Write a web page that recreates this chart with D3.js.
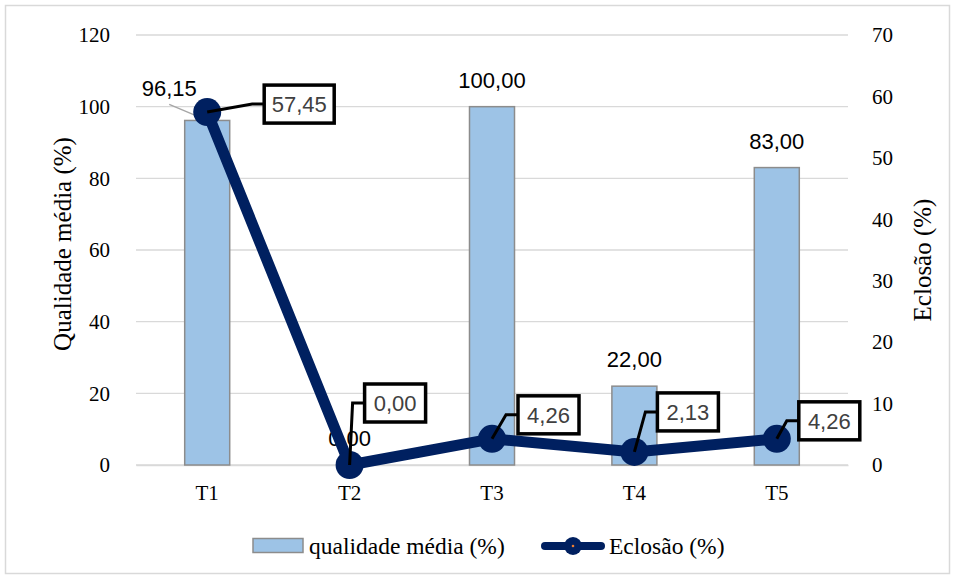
<!DOCTYPE html>
<html>
<head>
<meta charset="utf-8">
<script src="https://cdn.jsdelivr.net/npm/d3@7"></script>
<style>
  html, body { margin: 0; padding: 0; background: #fff; }
  svg { display: block; }
</style>
</head>
<body>
<svg id="chart" width="955" height="579"></svg>
<script>
// Treatments and measured values
const categories = ["T1", "T2", "T3", "T4", "T5"];
const qualidade = [96.15, 0.00, 100.00, 22.00, 83.00];
const eclosao = [57.45, 0.00, 4.26, 2.13, 4.26];
const leftTicks = [0, 20, 40, 60, 80, 100, 120];
const rightTicks = [0, 10, 20, 30, 40, 50, 60, 70];

// Callout placement for the hatch-rate labels (offset of box from the point)
const calloutDx = [57, 15, 26, 23, 22];
const calloutDy = [-8, -62, -24, -40, -18];
// Offsets for bar labels (T1 label is pushed left and tied with a leader)
const barLabelDx = [-38, 0, 0, 0, 0];

const fmt = v => v.toFixed(2).replace(".", ",");

const svg = d3.select("#chart");
const W = 955, H = 579;
const m = { left: 136, right: 107, top: 35, bottom: 114 };
const plotW = W - m.left - m.right;
const plotH = H - m.top - m.bottom;

// Outer frame
svg.append("rect").attr("x", 5.5).attr("y", 5.5).attr("width", 944).attr("height", 568)
  .attr("fill", "#fff").attr("stroke", "#d9d9d9").attr("stroke-width", 1.5);

const g = svg.append("g").attr("transform", `translate(${m.left},${m.top})`);

const x = d3.scaleBand().domain(categories).range([0, plotW]).paddingInner(0).paddingOuter(0);
const yL = d3.scaleLinear().domain([0, 120]).range([plotH, 0]);
const yR = d3.scaleLinear().domain([0, 70]).range([plotH, 0]);

// Horizontal gridlines
g.append("g").selectAll("line").data(leftTicks).join("line")
  .attr("x1", 0).attr("x2", plotW)
  .attr("y1", d => yL(d)).attr("y2", d => yL(d))
  .attr("stroke", "#d9d9d9").attr("stroke-width", 1.3);

const serif = "'Liberation Serif', 'Times New Roman', serif";
const sans = "'Liberation Sans', Arial, sans-serif";

// Left axis
const axL = g.append("g").call(d3.axisLeft(yL).tickValues(leftTicks).tickSize(0).tickPadding(26));
axL.select(".domain").remove();
axL.selectAll("text").attr("font-family", serif).attr("font-size", 21).attr("fill", "#000");

// Right axis
const axR = g.append("g").attr("transform", `translate(${plotW},0)`)
  .call(d3.axisRight(yR).tickValues(rightTicks).tickSize(0).tickPadding(24));
axR.select(".domain").remove();
axR.selectAll("text").attr("font-family", serif).attr("font-size", 21).attr("fill", "#000");

// Category axis
const axB = g.append("g").attr("transform", `translate(0,${plotH})`)
  .call(d3.axisBottom(x).tickSize(0).tickPadding(20));
axB.select(".domain").attr("stroke", "#d9d9d9").attr("stroke-width", 1.3);
axB.selectAll("text").attr("font-family", serif).attr("font-size", 21).attr("fill", "#000");

// Axis titles
svg.append("text").attr("transform", "translate(71,244) rotate(-90)")
  .attr("text-anchor", "middle").attr("font-family", serif).attr("font-size", 25)
  .text("Qualidade média (%)");
svg.append("text").attr("transform", "translate(931,260) rotate(-90)")
  .attr("text-anchor", "middle").attr("font-family", serif).attr("font-size", 25)
  .text("Eclosão (%)");

// Bars
const barW = 45;
g.append("g").selectAll("rect").data(qualidade).join("rect")
  .attr("x", (d, i) => x(categories[i]) + x.bandwidth() / 2 - barW / 2)
  .attr("y", d => yL(d))
  .attr("width", barW)
  .attr("height", d => plotH - yL(d))
  .attr("fill", "#9dc3e6").attr("stroke", "#8c8c8c").attr("stroke-width", 1.5);

// Bar value labels
const barLabels = g.append("g");
qualidade.forEach((d, i) => {
  const cx = x(categories[i]) + x.bandwidth() / 2;
  const lx = cx + barLabelDx[i];
  if (barLabelDx[i] !== 0) {
    barLabels.append("line")
      .attr("x1", lx).attr("y1", yL(d) - 16)
      .attr("x2", cx).attr("y2", yL(d))
      .attr("stroke", "#a6a6a6").attr("stroke-width", 1.3);
  }
  barLabels.append("text")
    .attr("x", lx).attr("y", yL(d) - (barLabelDx[i] !== 0 ? 24 : 19))
    .attr("text-anchor", "middle").attr("font-family", sans).attr("font-size", 22)
    .attr("fill", "#000").text(fmt(d));
});

// Hatch-rate line
const cxOf = i => x(categories[i]) + x.bandwidth() / 2;
const line = d3.line().x((d, i) => cxOf(i)).y(d => yR(d));
g.append("path").datum(eclosao).attr("d", line)
  .attr("fill", "none").attr("stroke", "#002060").attr("stroke-width", 11)
  .attr("stroke-linejoin", "round");
g.append("g").selectAll("circle").data(eclosao).join("circle")
  .attr("cx", (d, i) => cxOf(i)).attr("cy", d => yR(d)).attr("r", 14)
  .attr("fill", "#002060");

// Boxed callouts for the line values
const callouts = g.append("g");
eclosao.forEach((d, i) => {
  const px = cxOf(i), py = yR(d);
  const label = fmt(d);
  const bw = label.length > 4 ? 70 : 61, bh = 38;
  const bx = px + calloutDx[i], byc = py + calloutDy[i];
  const kx = bx - 12;
  callouts.append("path")
    .attr("d", `M${px},${py} L${kx},${byc} L${bx},${byc}`)
    .attr("fill", "none").attr("stroke", "#000").attr("stroke-width", 3);
  callouts.append("rect")
    .attr("x", bx).attr("y", byc - bh / 2).attr("width", bw).attr("height", bh)
    .attr("fill", "#fff").attr("stroke", "#000").attr("stroke-width", 3.5);
  callouts.append("text")
    .attr("x", bx + bw / 2).attr("y", byc + 8)
    .attr("text-anchor", "middle").attr("font-family", sans).attr("font-size", 22)
    .attr("fill", "#404040").text(label);
});

// Legend
const lg = svg.append("g");
lg.append("rect").attr("x", 253).attr("y", 538.5).attr("width", 50).attr("height", 14)
  .attr("fill", "#9dc3e6").attr("stroke", "#8c8c8c").attr("stroke-width", 1.5);
lg.append("text").attr("x", 309).attr("y", 554).attr("font-family", serif).attr("font-size", 23.5)
  .text("qualidade média (%)");
lg.append("line").attr("x1", 545).attr("x2", 601).attr("y1", 546).attr("y2", 546)
  .attr("stroke", "#002060").attr("stroke-width", 8).attr("stroke-linecap", "round");
lg.append("circle").attr("cx", 573).attr("cy", 546).attr("r", 9).attr("fill", "#002060");
lg.append("circle").attr("cx", 573).attr("cy", 546).attr("r", 1.3).attr("fill", "#ed7d31");
lg.append("text").attr("x", 609).attr("y", 554).attr("font-family", serif).attr("font-size", 23.5)
  .text("Eclosão (%)");
</script>
</body>
</html>
